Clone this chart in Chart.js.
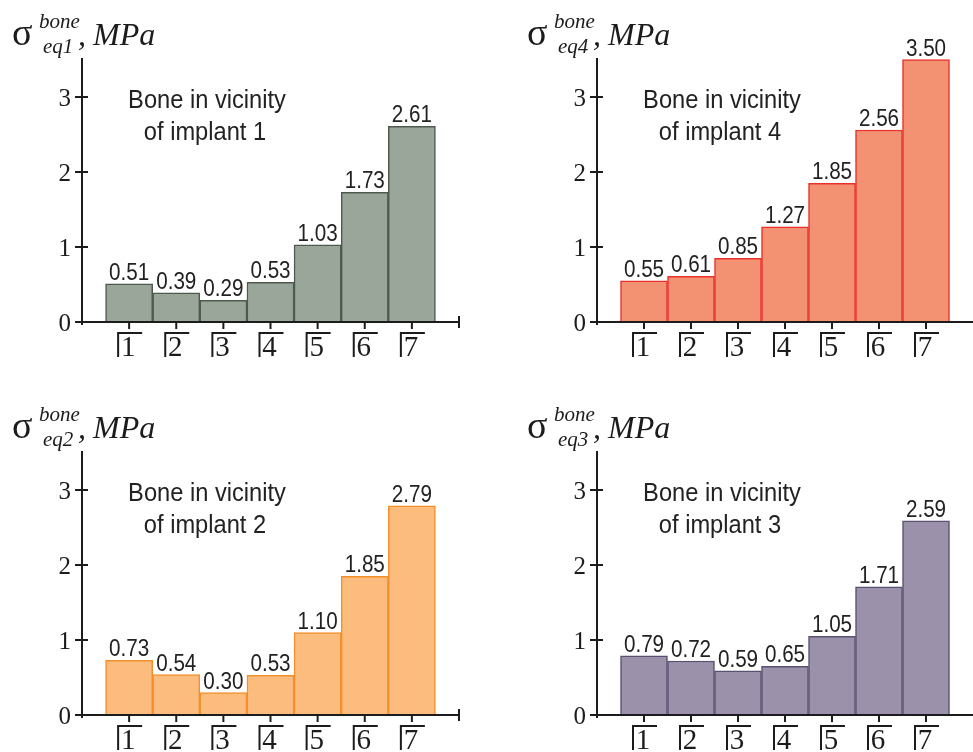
<!DOCTYPE html>
<html>
<head>
<meta charset="utf-8">
<script src="https://cdn.jsdelivr.net/npm/chart.js@4.4.1/dist/chart.umd.min.js"></script>
<style>
  html, body { margin:0; padding:0; background:#ffffff; width:973px; height:752px; overflow:hidden; position:relative; }
  canvas { position:absolute; }
</style>
</head>
<body>
<canvas id="c1" width="486" height="376" style="left:0px;top:0px"></canvas>
<canvas id="c2" width="487" height="376" style="left:486px;top:0px"></canvas>
<canvas id="c3" width="486" height="376" style="left:0px;top:393px"></canvas>
<canvas id="c4" width="487" height="376" style="left:486px;top:393px"></canvas>
<script>
// ---- data ----
const categories = ['1', '2', '3', '4', '5', '6', '7'];
const implant1 = [0.51, 0.39, 0.29, 0.53, 1.03, 1.73, 2.61];
const implant4 = [0.55, 0.61, 0.85, 1.27, 1.85, 2.56, 3.50];
const implant2 = [0.73, 0.54, 0.30, 0.53, 1.10, 1.85, 2.79];
const implant3 = [0.79, 0.72, 0.59, 0.65, 1.05, 1.71, 2.59];
const yTicks = [0, 1, 2, 3];
const yMax = 3.52;

const SERIF = '"Liberation Serif", "Times New Roman", serif';
const SANS = '"Liberation Sans", Arial, sans-serif';

const panels = [
  { id: 'c1', values: implant1, sub: 'eq1', implant: '1', fill: '#9aa69a', border: '#4e5a4f', axisX: 82, padRight: 27, endTick: true },
  { id: 'c2', values: implant4, sub: 'eq4', implant: '4', fill: '#f29272', border: '#e8312b', axisX: 111, padRight: 0, endTick: false },
  { id: 'c3', values: implant2, sub: 'eq2', implant: '2', fill: '#fbbc7e', border: '#f3902c', axisX: 82, padRight: 27, endTick: true },
  { id: 'c4', values: implant3, sub: 'eq3', implant: '3', fill: '#9b91aa', border: '#5a5171', axisX: 111, padRight: 0, endTick: false }
];

function line(ctx, x1, y1, x2, y2) {
  ctx.beginPath(); ctx.moveTo(x1, y1); ctx.lineTo(x2, y2); ctx.stroke();
}
function narrowText(ctx, txt, x, y, sx, align) {
  ctx.save();
  ctx.translate(x, y);
  ctx.scale(sx, 1);
  ctx.textAlign = align || 'center';
  ctx.fillText(txt, 0, 0);
  ctx.restore();
}

const panelPlugin = {
  id: 'panel',
  afterDraw(chart) {
    const p = chart.options.plugins.panel;
    const ctx = chart.ctx;
    const xs = chart.scales.x, ys = chart.scales.y;
    const x0 = xs.getPixelForValue(0);
    const y0 = ys.getPixelForValue(0);
    const yTop = ys.getPixelForValue(ys.max);
    const xEnd = xs.getPixelForValue(xs.max);
    ctx.save();
    ctx.strokeStyle = '#1c1c1c';
    ctx.fillStyle = '#1c1c1c';
    ctx.lineWidth = 2;
    // axes
    line(ctx, x0, yTop, x0, y0 + 3);
    line(ctx, x0 - 2, y0, p.endTick ? xEnd : xEnd + 4, y0);
    if (p.endTick) line(ctx, xEnd, y0 - 6, xEnd, y0 + 6);
    // y ticks and labels
    ctx.font = '25px ' + SERIF;
    ctx.textBaseline = 'alphabetic';
    ctx.textAlign = 'right';
    yTicks.forEach(v => {
      const y = ys.getPixelForValue(v);
      line(ctx, x0 - 7, y, x0 + 6, y);
      ctx.fillText(String(v), x0 - 11, y + 8.5);
    });
    // x ticks and bracket labels
    ctx.font = '29px ' + SERIF;
    ctx.textAlign = 'center';
    categories.forEach((c, i) => {
      const x = xs.getPixelForValue(i + 1);
      line(ctx, x, y0, x, y0 + 7);
      ctx.beginPath();
      ctx.moveTo(x - 11, y0 + 35);
      ctx.lineTo(x - 11, y0 + 11);
      ctx.lineTo(x + 13, y0 + 11);
      ctx.stroke();
      ctx.fillText(c, x - 1, y0 + 34);
    });
    // value labels
    ctx.font = '24px ' + SANS;
    ctx.fillStyle = '#222222';
    const meta = chart.getDatasetMeta(0);
    meta.data.forEach((bar, i) => {
      narrowText(ctx, p.values[i].toFixed(2), bar.x, bar.y - 4, 0.86, 'center');
    });
    // annotation
    ctx.font = '26px ' + SANS;
    narrowText(ctx, 'Bone in vicinity', x0 + 125, 108, 0.91, 'center');
    narrowText(ctx, 'of implant ' + p.implant, x0 + 123, 140, 0.91, 'center');
    // title
    ctx.fillStyle = '#1c1c1c';
    ctx.textAlign = 'left';
    ctx.font = '38px ' + SERIF;
    ctx.fillText('σ', x0 - 70, 45);
    ctx.font = 'italic 21px ' + SERIF;
    ctx.fillText('bone', x0 - 43, 28);
    ctx.fillText(p.sub, x0 - 39, 53);
    ctx.font = 'italic 32px ' + SERIF;
    ctx.fillText(',', x0 - 4, 45);
    ctx.fillText('MPa', x0 + 11, 45);
    ctx.restore();
  }
};

panels.forEach(p => {
  new Chart(document.getElementById(p.id), {
    type: 'bar',
    data: {
      datasets: [{
        data: p.values.map((v, i) => ({ x: i + 1, y: v })),
        backgroundColor: p.fill,
        borderColor: p.border,
        borderWidth: 1.5,
        categoryPercentage: 1,
        barPercentage: 1
      }]
    },
    options: {
      responsive: false,
      animation: false,
      events: [],
      layout: { padding: { left: p.axisX, right: p.padRight, top: 58, bottom: 54 } },
      scales: {
        x: { type: 'linear', display: false, offset: false, min: 0, max: 8, ticks: { stepSize: 1 }, grid: { offset: false } },
        y: { type: 'linear', display: false, min: 0, max: yMax, ticks: { stepSize: 1 } }
      },
      plugins: {
        legend: { display: false },
        tooltip: { enabled: false },
        panel: p
      }
    },
    plugins: [panelPlugin]
  });
});
</script>
</body>
</html>
